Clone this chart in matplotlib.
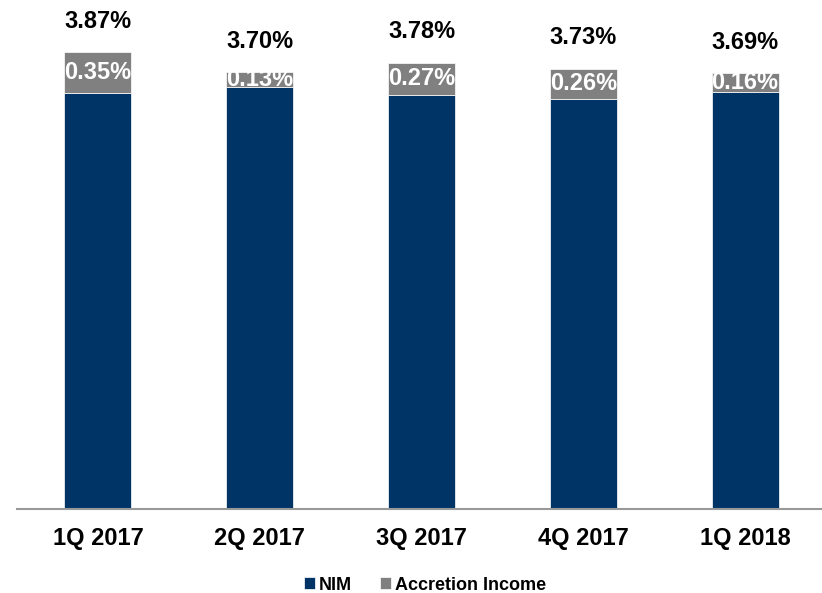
import matplotlib.pyplot as plt
import numpy as np

quarters = ["1Q 2017", "2Q 2017", "3Q 2017", "4Q 2017", "1Q 2018"]
nim = [3.52, 3.57, 3.51, 3.47, 3.53]
accretion = [0.35, 0.13, 0.27, 0.26, 0.16]
totals = [3.87, 3.70, 3.78, 3.73, 3.69]

NAVY = "#003366"
GRAY = "#808080"

plt.rcParams['font.family'] = ['Liberation Sans', 'DejaVu Sans']

fig = plt.figure(figsize=(8.22, 5.93), dpi=100)
ax = fig.add_axes([17 / 822, 84.3 / 593, 809 / 822, 4.3 * 118 / 593])

x = np.arange(len(quarters))
w = 0.414
ax.bar(x, nim, w, color=NAVY, edgecolor='white', linewidth=0.5, label='NIM')
ax.bar(x, accretion, w, bottom=nim, color=GRAY, edgecolor='white',
       linewidth=0.5, label='Accretion Income')

for i in range(len(x)):
    ax.text(x[i], nim[i] + accretion[i] / 2, f"{accretion[i]:.2f}%",
            ha='center', va='center', color='white', fontsize=17,
            fontweight='bold')
    ax.text(x[i], totals[i] + 0.26, f"{totals[i]:.2f}%", ha='center',
            va='center', color='black', fontsize=17, fontweight='bold')

ax.set_xlim(-0.5, 4.5)
ax.set_ylim(0, 4.3)
ax.set_xticks(x)
ax.set_xticklabels(quarters, fontsize=17, fontweight='bold')
ax.tick_params(axis='x', length=0, pad=13)
ax.set_yticks([])
for s in ['top', 'right', 'left']:
    ax.spines[s].set_visible(False)
ax.spines['bottom'].set_color('#999999')
ax.spines['bottom'].set_linewidth(1.5)

fig.legend(loc='center', bbox_to_anchor=(425 / 822, 1 - 585 / 593), ncol=2,
           frameon=False, prop={'size': 13, 'weight': 'bold'},
           handlelength=0.6, handleheight=0.6, handletextpad=0.2,
           columnspacing=1.6)

fig.savefig("out.png", dpi=100)
